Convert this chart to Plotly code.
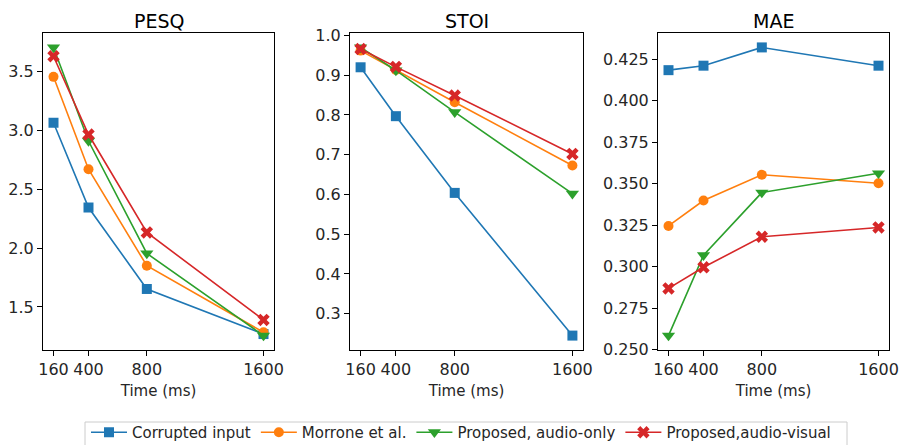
import plotly.graph_objects as go

times = [160, 400, 800, 1600]
series_names = ["Corrupted input", "Morrone et al.", "Proposed, audio-only", "Proposed,audio-visual"]
colors = ["#1f77b4", "#ff7f0e", "#2ca02c", "#d62728"]
symbols = ["square", "circle", "triangle-down", "x"]
marker_sizes = [10, 10, 11.5, 11]

pesq_corrupted = [3.065, 2.345, 1.653, 1.27]
pesq_morrone = [3.455, 2.67, 1.85, 1.285]
pesq_audio = [3.705, 2.91, 1.955, 1.257]
pesq_av = [3.63, 2.965, 2.133, 1.39]

stoi_corrupted = [0.920, 0.797, 0.604, 0.245]
stoi_morrone = [0.962, 0.913, 0.832, 0.673]
stoi_audio = [0.970, 0.912, 0.807, 0.602]
stoi_av = [0.966, 0.921, 0.849, 0.702]

mae_corrupted = [0.4183, 0.421, 0.432, 0.421]
mae_morrone = [0.3245, 0.3398, 0.3553, 0.3502]
mae_audio = [0.2585, 0.3069, 0.3446, 0.3562]
mae_av = [0.2869, 0.2996, 0.318, 0.3236]

panel_titles = ["PESQ", "STOI", "MAE"]
panel_data = [
    [pesq_corrupted, pesq_morrone, pesq_audio, pesq_av],
    [stoi_corrupted, stoi_morrone, stoi_audio, stoi_av],
    [mae_corrupted, mae_morrone, mae_audio, mae_av],
]
y_ticks = [
    [1.5, 2.0, 2.5, 3.0, 3.5],
    [0.3, 0.4, 0.5, 0.6, 0.7, 0.8, 0.9, 1.0],
    [0.250, 0.275, 0.300, 0.325, 0.350, 0.375, 0.400, 0.425],
]
y_formats = [".1f", ".1f", ".3f"]
x_label = "Time (ms)"

W, H = 899, 445
x_domains_px = [(43, 274), (350, 583), (658, 889)]
y_top_px, y_bot_px = 33, 350

FONT = "DejaVu Sans"
TXT = "#262626"

fig = go.Figure()

def margin_range(vals, frac=0.05):
    lo, hi = min(vals), max(vals)
    d = (hi - lo) * frac
    return [lo - d, hi + d]

for p in range(3):
    xa = "x" if p == 0 else f"x{p+1}"
    ya = "y" if p == 0 else f"y{p+1}"
    for s in range(4):
        fig.add_trace(go.Scatter(
            x=times, y=panel_data[p][s], mode="lines+markers",
            name=series_names[s], legendgroup=series_names[s], showlegend=(p == 0),
            line=dict(color=colors[s], width=1.6),
            marker=dict(symbol=symbols[s], size=marker_sizes[s],
                        color=colors[s], line=dict(width=0)),
            xaxis=xa, yaxis=ya,
        ))
    allv = [v for ser in panel_data[p] for v in ser]
    axis_common = dict(
        showline=True, linecolor="black", linewidth=1, mirror=True,
        ticks="outside", ticklen=5, tickcolor="black", tickwidth=1,
        showgrid=False, zeroline=False,
        tickfont=dict(family=FONT, size=16, color=TXT),
    )
    x0, x1 = x_domains_px[p]
    fig.layout[f"xaxis{'' if p == 0 else p+1}"] = dict(
        axis_common, domain=[x0 / W, x1 / W], range=margin_range(times),
        tickvals=times, ticktext=[str(t) for t in times],
        anchor=ya,
        title=dict(text=x_label, font=dict(family=FONT, size=15, color=TXT), standoff=7),
    )
    fig.layout[f"yaxis{'' if p == 0 else p+1}"] = dict(
        axis_common, domain=[1 - y_bot_px / H, 1 - y_top_px / H],
        range=margin_range(allv), tickvals=y_ticks[p], tickformat=y_formats[p],
        anchor=xa,
    )
    fig.add_annotation(
        text=panel_titles[p], x=(x0 + x1) / 2 / W, y=1 - 21 / H,
        xref="paper", yref="paper", showarrow=False,
        font=dict(family=FONT, size=19, color="black"),
        xanchor="center", yanchor="middle",
    )

# legend frame
fig.add_shape(type="rect", xref="paper", yref="paper",
              x0=85 / W, x1=847 / W, y0=-0.2, y1=1 - 422 / H,
              line=dict(color="#cccccc", width=1), fillcolor="rgba(0,0,0,0)", layer="below")

fig.update_layout(
    width=W, height=H,
    margin=dict(l=0, r=0, t=0, b=0, autoexpand=False),
    paper_bgcolor="white", plot_bgcolor="white",
    legend=dict(
        orientation="h", x=86 / W, y=1 - 416 / H, xanchor="left", yanchor="top",
        borderwidth=0, bgcolor="rgba(0,0,0,0)",
        font=dict(family=FONT, size=15, color=TXT),
        itemwidth=36, tracegroupgap=0,
    ),
)

fig.write_html("out.html")
